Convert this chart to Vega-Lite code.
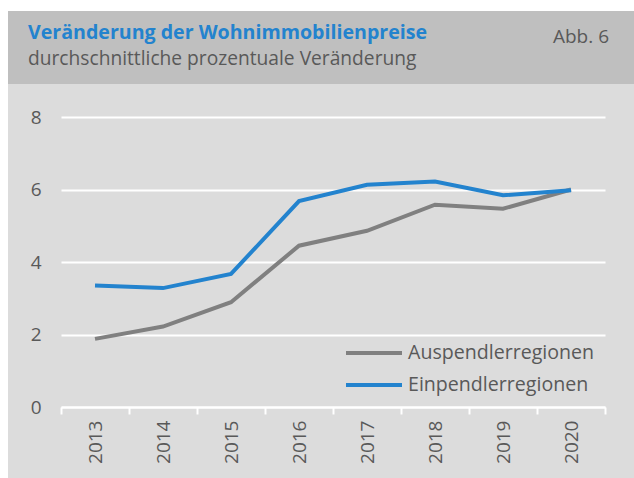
{
  "$schema": "https://vega.github.io/schema/vega-lite/v6.json",
  "width": 544,
  "height": 290,
  "autosize": {"type": "none"},
  "padding": {"left": 61, "top": 117, "right": 29, "bottom": 71},
  "background": "#dcdcdc",
  "config": {
    "view": {"stroke": null},
    "font": "Open Sans"
  },
  "resolve": {"scale": {"x": "independent", "y": "independent", "color": "independent"}},
  "layer": [
    {
      "data": {"values": [{"part": "top margin"}]},
      "mark": {"type": "rect", "color": "#ffffff"},
      "encoding": {
        "x": {"datum": 0, "type": "quantitative", "scale": {"domain": [61, 605], "nice": false, "zero": false}, "axis": null},
        "x2": {"datum": 634},
        "y": {"datum": 0, "type": "quantitative", "scale": {"domain": [117, 407], "reverse": true, "nice": false, "zero": false}, "axis": null},
        "y2": {"datum": 11}
      }
    },
    {
      "data": {"values": [{"part": "left margin"}]},
      "mark": {"type": "rect", "color": "#ffffff"},
      "encoding": {
        "x": {"datum": 0, "type": "quantitative", "scale": {"domain": [61, 605], "nice": false, "zero": false}, "axis": null},
        "x2": {"datum": 8},
        "y": {"datum": 0, "type": "quantitative", "scale": {"domain": [117, 407], "reverse": true, "nice": false, "zero": false}, "axis": null},
        "y2": {"datum": 478}
      }
    },
    {
      "data": {"values": [{"part": "header"}]},
      "mark": {"type": "rect", "color": "#bfbfbf"},
      "encoding": {
        "x": {"datum": 8, "type": "quantitative", "scale": {"domain": [61, 605], "nice": false, "zero": false}, "axis": null},
        "x2": {"datum": 634},
        "y": {"datum": 11, "type": "quantitative", "scale": {"domain": [117, 407], "reverse": true, "nice": false, "zero": false}, "axis": null},
        "y2": {"datum": 84}
      }
    },
    {
      "data": {"values": [{"label": "Veränderung der Wohnimmobilienpreise"}]},
      "mark": {"type": "text", "align": "left", "baseline": "alphabetic", "fontSize": 19.6, "fontWeight": "bold", "color": "#2383ce"},
      "encoding": {
        "text": {"field": "label"},
        "x": {"datum": 28, "type": "quantitative", "scale": {"domain": [61, 605], "nice": false, "zero": false}, "axis": null},
        "y": {"datum": 39, "type": "quantitative", "scale": {"domain": [117, 407], "reverse": true, "nice": false, "zero": false}, "axis": null}
      }
    },
    {
      "data": {"values": [{"label": "durchschnittliche prozentuale Veränderung"}]},
      "mark": {"type": "text", "align": "left", "baseline": "alphabetic", "fontSize": 19.2, "color": "#595959"},
      "encoding": {
        "text": {"field": "label"},
        "x": {"datum": 28, "type": "quantitative", "scale": {"domain": [61, 605], "nice": false, "zero": false}, "axis": null},
        "y": {"datum": 65, "type": "quantitative", "scale": {"domain": [117, 407], "reverse": true, "nice": false, "zero": false}, "axis": null}
      }
    },
    {
      "data": {"values": [{"label": "Abb. 6"}]},
      "mark": {"type": "text", "align": "right", "baseline": "alphabetic", "fontSize": 19, "color": "#595959"},
      "encoding": {
        "text": {"field": "label"},
        "x": {"datum": 609, "type": "quantitative", "scale": {"domain": [61, 605], "nice": false, "zero": false}, "axis": null},
        "y": {"datum": 43, "type": "quantitative", "scale": {"domain": [117, 407], "reverse": true, "nice": false, "zero": false}, "axis": null}
      }
    },
    {
      "data": {"values": [
        {"year": "2013", "series": "Auspendlerregionen", "value": 1.88},
        {"year": "2014", "series": "Auspendlerregionen", "value": 2.22},
        {"year": "2015", "series": "Auspendlerregionen", "value": 2.89},
        {"year": "2016", "series": "Auspendlerregionen", "value": 4.45},
        {"year": "2017", "series": "Auspendlerregionen", "value": 4.86},
        {"year": "2018", "series": "Auspendlerregionen", "value": 5.58},
        {"year": "2019", "series": "Auspendlerregionen", "value": 5.47},
        {"year": "2020", "series": "Auspendlerregionen", "value": 6.0},
        {"year": "2013", "series": "Einpendlerregionen", "value": 3.35},
        {"year": "2014", "series": "Einpendlerregionen", "value": 3.28},
        {"year": "2015", "series": "Einpendlerregionen", "value": 3.67},
        {"year": "2016", "series": "Einpendlerregionen", "value": 5.68},
        {"year": "2017", "series": "Einpendlerregionen", "value": 6.13},
        {"year": "2018", "series": "Einpendlerregionen", "value": 6.22},
        {"year": "2019", "series": "Einpendlerregionen", "value": 5.84},
        {"year": "2020", "series": "Einpendlerregionen", "value": 5.98}
      ]},
      "mark": {"type": "line", "strokeWidth": 4},
      "encoding": {
        "x": {
          "field": "year", "type": "ordinal",
          "scale": {"type": "band", "paddingInner": 0, "paddingOuter": 0},
          "axis": {
            "title": null,
            "labelAngle": -90,
            "labelAlign": "right",
            "labelBaseline": "middle",
            "labelFontSize": 19,
            "labelColor": "#595959",
            "labelPadding": 6,
            "domainColor": "#ffffff",
            "domainWidth": 2,
            "tickColor": "#ffffff",
            "tickWidth": 2,
            "tickSize": 7,
            "tickBand": "extent",
            "grid": false
          }
        },
        "y": {
          "field": "value", "type": "quantitative",
          "scale": {"domain": [0, 8], "nice": false},
          "axis": {
            "title": null,
            "values": [0, 2, 4, 6, 8],
            "labelFontSize": 19,
            "labelColor": "#595959",
            "labelPadding": 20,
            "domain": false,
            "ticks": false,
            "grid": true,
            "gridColor": "#ffffff",
            "gridWidth": 2
          }
        },
        "color": {
          "field": "series", "type": "nominal",
          "scale": {"domain": ["Auspendlerregionen", "Einpendlerregionen"], "range": ["#808080", "#2383ce"]},
          "legend": {
            "title": null,
            "orient": "none",
            "legendX": 283,
            "legendY": 220,
            "padding": 0,
            "symbolType": "stroke",
            "symbolSize": 3136,
            "symbolStrokeWidth": 4,
            "labelFontSize": 19.6,
            "labelColor": "#595959",
            "labelOffset": 4,
            "labelLimit": 300,
            "clipHeight": 32,
            "rowPadding": 0
          }
        }
      }
    }
  ]
}
